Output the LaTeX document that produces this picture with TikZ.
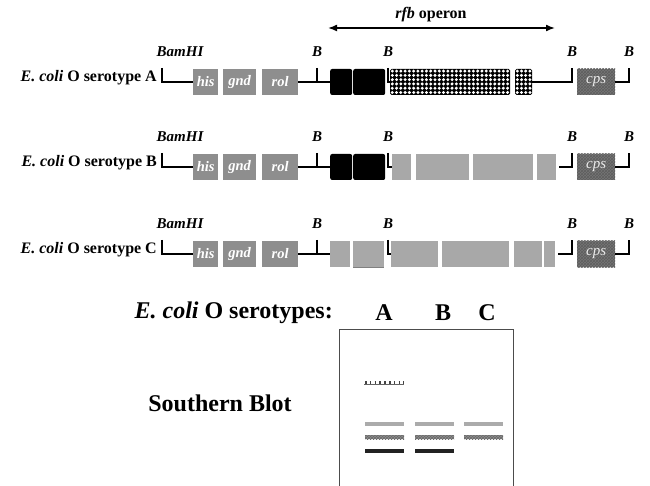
\documentclass[tikz,border=0pt]{standalone}
\usepackage{fontspec}
\setmainfont{Liberation Serif}
\usetikzlibrary{arrows.meta,patterns}

\definecolor{genegray}{HTML}{8E8E8E}
\definecolor{rfbgray}{HTML}{A8A8A8}
\definecolor{cpsgray}{HTML}{767676}
\definecolor{cpsdark}{HTML}{5E5E5E}
\definecolor{bandlight}{HTML}{ABABAB}
\definecolor{bandmid}{HTML}{8C8C8C}
\definecolor{bandhatch}{HTML}{6A6A6A}
\definecolor{banddark}{HTML}{222222}

% box placed by its left and right edge on a backbone line
\newcommand\blk[6]{\node[#1, minimum width={(#4)-(#3)}, anchor=west] (#2) at (#3,#5) {#6};}

\begin{document}
\begin{tikzpicture}[x=1pt,y=-1pt,
  dna/.style={line width=1.8pt, draw=black},
  rowlabel/.style={font=\fontsize{16}{16}\selectfont\bfseries, inner sep=0pt},
  site/.style={font=\fontsize{15}{15}\selectfont\bfseries\itshape, inner sep=0pt},
  boxbase/.style={minimum height=26, inner sep=0pt, draw=none},
  genebox/.style={boxbase, fill=genegray, text=white, font=\fontsize{14.5}{14.5}\selectfont\bfseries\itshape},
  rfbbox/.style={boxbase, fill=rfbgray},
  blackbox/.style={boxbase, fill=black, rounded corners=2pt},
  checkbox/.style={boxbase, fill=black, rounded corners=1.5pt},
  cpsbox/.style={boxbase, fill=cpsgray, postaction={pattern=crosshatch, pattern color=cpsdark},
    text=white!85!gray, font=\fontsize{15}{15}\selectfont\itshape},
  big/.style={font=\fontsize{24}{24}\selectfont\bfseries, inner sep=0pt},
  band/.style={line width=4pt},
]
\useasboundingbox (0,0) rectangle (650,486);

% rfb operon span
\coordinate (rfbL) at (328,28);
\coordinate (rfbR) at (555,28);
\draw[line width=1.6pt, {Latex[length=9pt,width=7pt]}-{Latex[length=9pt,width=7pt]}] (rfbL) -- (rfbR);
\node[font=\fontsize{16}{16}\selectfont\bfseries, inner sep=0pt] (rfbtxt) at (431,15) {\textit{rfb} operon};

% parts shared by the three gene maps
\foreach \rw/\ly in {A/82,B/167,C/254}{
  \node[rowlabel, anchor=east] (lbl\rw) at (157,\ly-4) {\textit{E. coli} O serotype \rw};
  \node[site] (bam\rw) at (180,\ly-30) {BamHI};
  \node[site] (bs1\rw) at (317,\ly-30) {B};
  \node[site] (bs2\rw) at (388,\ly-30) {B};
  \node[site] (bs3\rw) at (572,\ly-30) {B};
  \node[site] (bs4\rw) at (629,\ly-30) {B};
  \coordinate (brk\rw) at (162,\ly-14);
  \coordinate (tk1\rw) at (317,\ly-14);
  \coordinate (tk1b\rw) at (317,\ly);
  \coordinate (tk2\rw) at (388,\ly-14);
  \coordinate (tk3\rw) at (572,\ly-14);
  \coordinate (tk4\rw) at (629,\ly-14);
  \blk{genebox}{his\rw}{193}{218}{\ly}{his}
  \blk{genebox}{gnd\rw}{223}{256}{\ly}{gnd}
  \blk{genebox}{rol\rw}{262}{298}{\ly}{rol}
  \blk{cpsbox}{cps\rw}{577}{615}{\ly}{cps}
  \draw[dna] (brk\rw) |- (his\rw.west);
  \draw[dna] (tk1\rw) -- (tk1b\rw);
  \draw[dna] (cps\rw.east) -| (tk4\rw);
}

% serotype A
\blk{blackbox}{g1A}{330}{352}{82}{}
\blk{blackbox}{g2A}{353}{385}{82}{}
\blk{checkbox}{g3A}{390}{510}{82}{}
\blk{checkbox}{g4A}{515}{532}{82}{}
\foreach \i in {0,...,27}{\foreach \j in {0,...,5}{
  \fill[white] ([shift={(2.3+\i*4.27,2.3+\j*4.28)}]g3A.north west) circle (1.65);}}
\foreach \i in {0,...,3}{\foreach \j in {0,...,5}{
  \fill[white] ([shift={(2.3+\i*4.2,2.3+\j*4.28)}]g4A.north west) circle (1.65);}}
\draw[dna] (rolA.east) -- (g1A.west);
\draw[dna] (tk2A) |- (g3A.west);
\draw[dna] (g4A.east) -| (tk3A);

% serotype B
\blk{blackbox}{g1B}{330}{352}{167}{}
\blk{blackbox}{g2B}{353}{385}{167}{}
\blk{rfbbox}{g3B}{392}{411}{167}{}
\blk{rfbbox}{g4B}{416}{469}{167}{}
\blk{rfbbox}{g5B}{473}{533}{167}{}
\blk{rfbbox}{g6B}{537}{556}{167}{}
\coordinate (gapB) at (559,167);
\draw[dna] (rolB.east) -- (g1B.west);
\draw[dna] (tk2B) |- (g3B.west);
\draw[dna] (gapB) -| (tk3B);

% serotype C
\blk{rfbbox}{g1C}{330}{350}{254}{}
\blk{rfbbox}{g2C}{353}{384}{254}{}
\draw[gray, line width=0.8pt] (g2C.south west) -- (g2C.south east);
\blk{rfbbox}{g3C}{391}{438}{254}{}
\blk{rfbbox}{g4C}{442}{509}{254}{}
\blk{rfbbox}{g5C}{514}{542}{254}{}
\blk{rfbbox}{g6C}{544}{555}{254}{}
\coordinate (gapC) at (558,254);
\draw[dna] (rolC.east) -- (g1C.west);
\draw[dna] (tk2C) |- (g3C.west);
\draw[dna] (gapC) -| (tk3C);

% Southern blot
\node[big, anchor=east] (sero) at (333,313) {\textit{E. coli} O serotypes:};
\node[big] (laneA) at (384,313) {A};
\node[big] (laneB) at (443,313) {B};
\node[big] (laneC) at (487,313) {C};
\node[big] (sb) at (220,403) {Southern Blot};
\node[draw=black!70, line width=1pt, minimum width=174, minimum height=175, anchor=north west, inner sep=0pt] (blot) at (339,329) {};

% bands
\draw[band, line width=4pt, banddark!85, dash pattern=on 1.6pt off 3.2pt] (365,382.5) -- (404,382.5);
\draw[line width=0.8pt, banddark!70] (364,384.5) -- (404,384.5);
\foreach \xa/\xb in {365/404,415/454,464/503}{
  \draw[band, bandlight] (\xa,424) -- (\xb,424);
  \draw[band, bandmid] (\xa,437) -- (\xb,437);
  \fill[pattern=crosshatch, pattern color=bandhatch] (\xa,435) rectangle (\xb,439);
}
\foreach \xa/\xb in {365/404,415/454}{
  \draw[band, banddark] (\xa,451) -- (\xb,451);
}
\end{tikzpicture}
\end{document}
